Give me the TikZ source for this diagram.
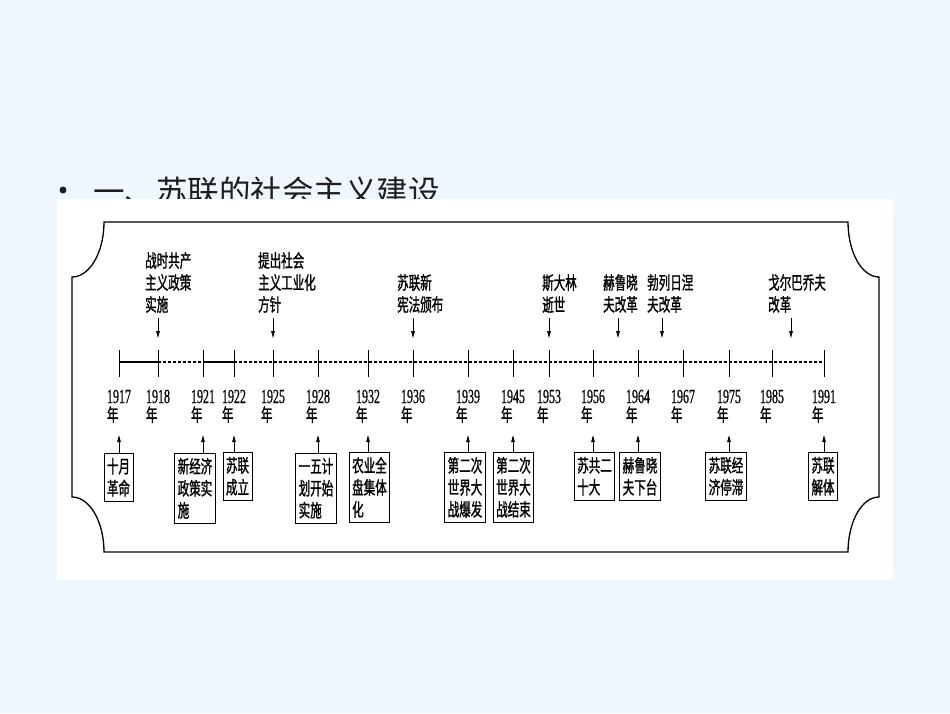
\documentclass[tikz,border=0pt]{standalone}
\usepackage{fontspec}
\usetikzlibrary{arrows.meta}
\newfontfamily\cjk[FakeStretch=0.64,FakeBold=1.2]{Noto Sans CJK SC}
\newfontfamily\cjktitle{Noto Sans CJK SC}
\newfontfamily\yrfont[FakeStretch=0.6,FakeBold=0.6]{Liberation Serif}
\definecolor{bgblue}{RGB}{239,246,253}
\definecolor{titlecol}{RGB}{30,30,30}
\begin{document}
\begin{tikzpicture}[x=1pt,y=-1pt,
  lbl/.style={font=\cjk\fontsize{18}{22}\selectfont, align=left, inner sep=0pt, anchor=south west},
  evbox/.style={draw, line width=0.9pt, font=\cjk\fontsize{18}{22}\selectfont, align=left, inner xsep=3pt, inner ysep=4.5pt, anchor=north},
  yrnum/.style={font=\yrfont\fontsize{20}{20}\selectfont, inner sep=0pt, anchor=base},
  nian/.style={font=\cjk\fontsize{18}{18}\selectfont, inner sep=0pt, anchor=base west},
  tk/.style={line width=0.9pt},
  solidseg/.style={line width=1.6pt},
  dashseg/.style={line width=1.1pt, dash pattern=on 3pt off 2pt},
  downarr/.style={line width=0.8pt, -{Triangle[length=7pt,width=3.6pt]}, shorten <=5pt, shorten >=24pt},
  uparr/.style={line width=0.8pt, -{Triangle[length=7pt,width=3.6pt]}, shorten >=12pt},
  frame/.style={line width=1.3pt}
]
\useasboundingbox (0,0) rectangle (950,713);
\fill[bgblue] (0,0) rectangle (950,713);
% title
\fill[titlecol] (63,190) circle[radius=3.5];
\node[font=\cjktitle\fontsize{31.5}{31.5}\selectfont, text=titlecol, inner sep=0pt, anchor=base west] (title) at (93,203) {一、苏联的社会主义建设};
% white panel
\fill[white] (57,199) rectangle (893,580);
% frame
\draw[frame] (104,222) -- (848,222) .. controls (848,252.4) and (861.9,277) .. (879,277) -- (879,497) .. controls (861.9,497) and (848,521.6) .. (848,552) -- (104,552) .. controls (104,521.6) and (89.7,497) .. (72,497) -- (72,277) .. controls (89.7,277) and (104,252.4) .. cycle;
% timeline ticks and years
\foreach \yr/\x in {1917/119,1918/158,1921/203,1922/234,1925/273,1928/318,1932/368,1936/413,1939/468,1945/513,1953/549,1956/593,1964/638,1967/683,1975/729,1985/772,1991/824}{
  \coordinate (t\yr) at (\x,362);
  \draw[tk] ([yshift=12pt]t\yr) -- ([yshift=-15pt]t\yr);
  \node[yrnum] (n\yr) at (\x,403) {\yr};
  \node[nian] (nn\yr) at ([yshift=-18.5pt]n\yr.base west) {年};
}
\coordinate (a1) at (618,362);
\coordinate (a2) at (662,362);
\coordinate (a3) at (791,362);
\draw[solidseg] (t1917) -- (t1918);
\draw[dashseg] (t1918) -- (t1921);
\draw[solidseg] (t1921) -- (t1922);
\draw[dashseg] (t1922) -- (t1991);
% top labels
\node[lbl] (L1) at (145,313) {战时共产\\主义政策\\实施};
\node[lbl] (L2) at (258,313) {提出社会\\主义工业化\\方针};
\node[lbl] (L3) at (397,313) {苏联新\\宪法颁布};
\node[lbl] (L4) at (542,313) {斯大林\\逝世};
\node[lbl] (L5) at (603,313) {赫鲁晓\\夫改革};
\node[lbl] (L6) at (647,313) {勃列日涅\\夫改革};
\node[lbl] (L7) at (768,313) {戈尔巴乔夫\\改革};
\draw[downarr] (L1.south -| t1918) -- (t1918);
\draw[downarr] (L2.south -| t1925) -- (t1925);
\draw[downarr] (L3.south -| t1936) -- (t1936);
\draw[downarr] (L4.south -| t1953) -- (t1953);
\draw[downarr] (L5.south -| a1) -- (a1);
\draw[downarr] (L6.south -| a2) -- (a2);
\draw[downarr] (L7.south -| a3) -- (a3);
% bottom boxes
\node[evbox] (b1) at (118.5,453) {十月\\革命};
\node[evbox] (b2) at (195,453) {新经济\\政策实\\施};
\node[evbox] (b3) at (237.5,452) {苏联\\成立};
\node[evbox] (b4) at (316,453) {一五计\\划开始\\实施};
\node[evbox] (b5) at (369.5,452) {农业全\\盘集体\\化};
\node[evbox] (b6) at (465,452) {第二次\\世界大\\战爆发};
\node[evbox] (b7) at (513.5,452) {第二次\\世界大\\战结束};
\node[evbox] (b8) at (594.5,452) {苏共二\\十大};
\node[evbox] (b9) at (640,452) {赫鲁晓\\夫下台};
\node[evbox] (b10) at (726,452) {苏联经\\济停滞};
\node[evbox] (b11) at (823,452) {苏联\\解体};
\foreach \b in {b1,b2,b3,b4,b5,b6,b7,b8,b9,b10,b11}{
  \draw[line width=1.6pt] (\b.south west) -- (\b.south east);
}
\draw[uparr] (b1.north -| t1917) -- (nn1917.south -| t1917);
\draw[uparr] (b2.north -| t1921) -- (nn1921.south -| t1921);
\draw[uparr] (b3.north -| t1922) -- (nn1922.south -| t1922);
\draw[uparr] (b4.north -| t1928) -- (nn1928.south -| t1928);
\draw[uparr] (b5.north -| t1932) -- (nn1932.south -| t1932);
\draw[uparr] (b6.north -| t1939) -- (nn1939.south -| t1939);
\draw[uparr] (b7.north -| t1945) -- (nn1945.south -| t1945);
\draw[uparr] (b8.north -| t1956) -- (nn1956.south -| t1956);
\draw[uparr] (b9.north -| t1964) -- (nn1964.south -| t1964);
\draw[uparr] (b10.north -| t1975) -- (nn1975.south -| t1975);
\draw[uparr] (b11.north -| t1991) -- (nn1991.south -| t1991);
\end{tikzpicture}
\end{document}
